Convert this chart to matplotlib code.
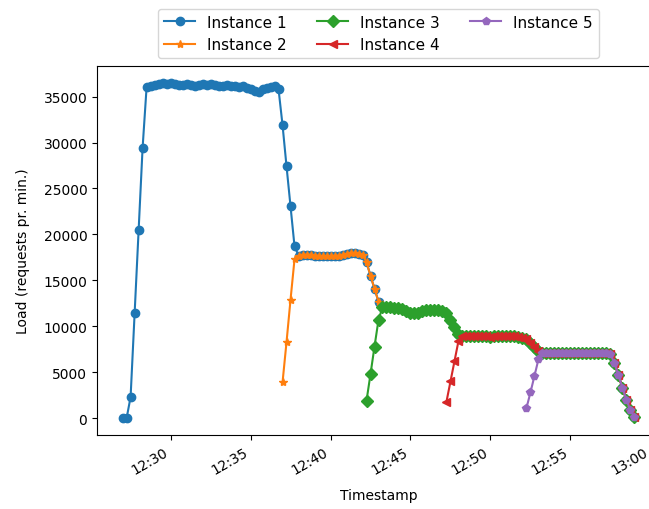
import pandas as pd
import matplotlib
matplotlib.use('Agg')
import matplotlib.pyplot as plt
import matplotlib.dates as mdates

# samples every 15 s, starting 12:27:00
start_time = '2020-01-01 12:27:00'
n_samples = 129
sample_freq = '15s'

# load per instance once all running instances share traffic (instance 1 sees it all)
load_1 = [0, 0, 2300, 11400, 20500, 29400, 36000,
          36100, 36300, 36400, 36500, 36400, 36500, 36400, 36300, 36300, 36400,
          36300, 36200, 36300, 36400, 36300, 36400, 36300, 36100, 36200, 36300,
          36200, 36100, 36000, 36100, 35900, 35800, 35600, 35500, 35800, 35900,
          36000, 36100, 35800,
          31900, 27400, 23100, 18700,
          17700, 17800, 17800, 17800, 17700, 17700, 17600, 17600, 17600, 17700,
          17700, 17800, 17900, 18000, 18000, 17900, 17800,
          17000, 15500, 14100, 12700,
          12100, 12100, 12100, 12000, 12000, 11900, 11700, 11500, 11400, 11500,
          11700, 11800, 11800, 11800, 11800, 11700,
          11400, 10700, 9900, 9200,
          9000, 9000, 8900, 8900, 8900, 8900, 8900, 8800, 8900, 8900,
          8900, 8900, 8900, 8900, 8800, 8700,
          8600, 8200, 7700, 7300,
          7100, 7100, 7100, 7100, 7100, 7100, 7100, 7100, 7100, 7100,
          7100, 7100, 7100, 7100, 7100, 7100, 7100, 7000,
          6000, 4700, 3300, 2000, 900, 100]

# sample index where each instance starts, and its ramp-up values
start_idx = [0, 40, 61, 81, 101]
ramp_2 = [3900, 8300, 12900, 17300]
ramp_3 = [1900, 4800, 7800, 10700]
ramp_4 = [1800, 4000, 6200, 8400]
ramp_5 = [1100, 2800, 4600, 6400]

labels = ['Instance 1', 'Instance 2', 'Instance 3', 'Instance 4', 'Instance 5']
markers = ['o', '*', 'D', '<', 'p']

times = pd.date_range(start_time, periods=n_samples, freq=sample_freq)

series = [load_1]
for idx, ramp in zip(start_idx[1:], [ramp_2, ramp_3, ramp_4, ramp_5]):
    series.append(ramp + load_1[idx + len(ramp):])

fig = plt.figure(figsize=(6.49, 5.10), dpi=100)
# axes runs a little past the right edge, like the cropped original
ax = fig.add_axes([97 / 649, 74 / 510, 563 / 649, 369 / 510])

for i, (vals, idx) in enumerate(zip(series, start_idx)):
    ax.plot(times[idx:], vals, marker=markers[i], label=labels[i])

ax.xaxis.set_major_locator(mdates.MinuteLocator(byminute=range(0, 60, 5)))
ax.xaxis.set_major_formatter(mdates.DateFormatter('%H:%M'))
for lbl in ax.get_xticklabels():
    lbl.set_rotation(30)
    lbl.set_ha('right')

ax.set_xlabel('Timestamp', labelpad=8)
ax.set_ylabel('Load (requests pr. min.)', labelpad=10)
ax.legend(loc='lower center', bbox_to_anchor=(0.5, 1.0), ncol=3, fontsize=11)

fig.savefig('out.png', dpi=100)
